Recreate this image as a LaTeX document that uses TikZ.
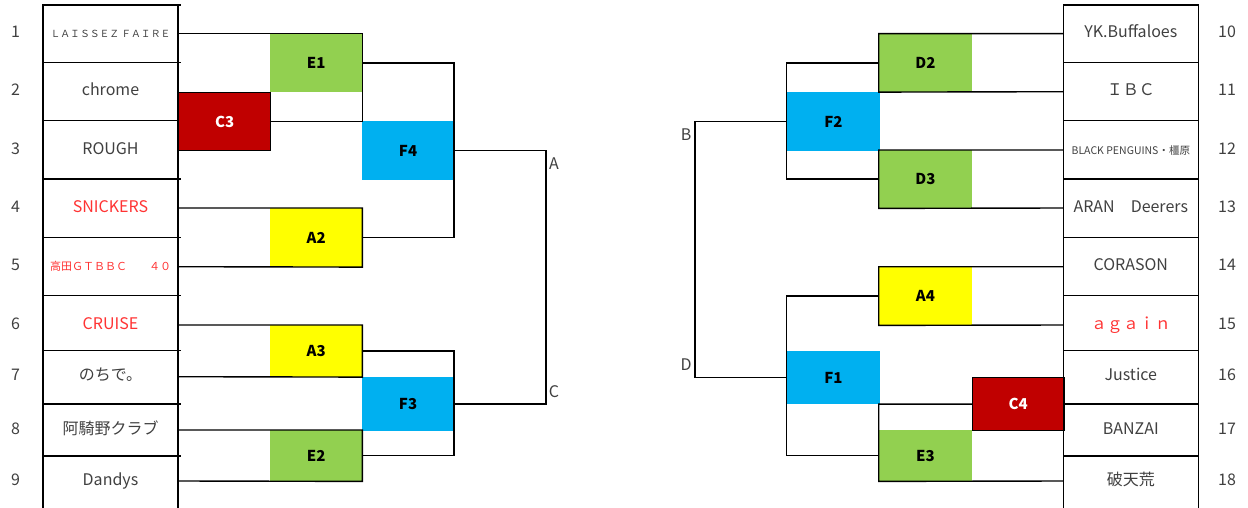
\documentclass[tikz,border=0pt]{standalone}
\usepackage{fontspec}
\setmainfont{Noto Sans CJK JP}
\usetikzlibrary{positioning}

\definecolor{egreen}{HTML}{92D050}
\definecolor{fblue}{HTML}{00B0F0}
\definecolor{ayellow}{HTML}{FFFF00}
\definecolor{cred}{HTML}{C00000}
\definecolor{txtgray}{HTML}{404040}
\definecolor{txtred}{HTML}{FF3333}

\tikzset{
  team/.style={inner sep=0pt, minimum width=135pt, text height=11pt, text depth=3pt,
    text=txtgray, font=\fontsize{16}{18}\selectfont},
  redteam/.style={team, text=txtred},
  seedno/.style={inner sep=0pt, text height=11pt, text depth=3pt, text=txtgray,
    font=\fontsize{16}{18}\selectfont},
  game/.style={inner sep=0pt, minimum width=92pt, anchor=north west,
    font=\fontsize{15}{17}\selectfont\bfseries},
  wire/.style={line width=1.4pt, line cap=rect},
}

\begin{document}
\begin{tikzpicture}[x=1pt, y=-1pt]
\useasboundingbox (0,0) rectangle (1248,508);

% entry tables
\foreach \y in {5,62.7,120.7,179,237.7,295.7,350.7,404,456} {
  \draw[wire] (43,\y) -- (180,\y);
  \draw[wire] (1063.3,\y) -- (1198.3,\y);
}
\draw[wire] (43,5) -- (43,510) (178,5) -- (178,510);
\draw[wire] (1063.3,5) -- (1063.3,510) (1198.3,5) -- (1198.3,510);

% seed numbers
\foreach \n/\y in {1/33.7,2/91.7,3/150,4/208,5/266.7,6/325,7/376.7,8/430,9/481}
  \node[seedno] (n\n) at (15.5,\y) {\n};
\foreach \n/\y in {10/33.7,11/91.7,12/150,13/208,14/266.7,15/325,16/376.7,17/430,18/481}
  \node[seedno] (n\n) at (1227,\y) {\n};

% teams, left
\node[team, font=\fontsize{9.8}{11}\selectfont] (t1) at (110.5,33.7) {ＬＡＩＳＳＥＺ ＦＡＩＲＥ};
\node[team] (t2) at (110.5,91.7) {chrome};
\node[team] (t3) at (110.5,150) {ROUGH};
\node[redteam] (t4) at (110.5,208) {SNICKERS};
\node[redteam, font=\fontsize{11}{13}\selectfont] (t5) at (110.5,266.7) {高田ＧＴＢＢＣ　　４０};
\node[redteam] (t6) at (110.5,325) {CRUISE};
\node[team] (t7) at (110.5,376.7) {のちで。};
\node[team] (t8) at (110.5,430) {阿騎野クラブ};
\node[team] (t9) at (110.5,481) {Dandys};

% teams, right
\node[team] (t10) at (1130.8,33.7) {YK.Buffaloes};
\node[team] (t11) at (1130.8,91.7) {ＩＢＣ};
\node[team, font=\fontsize{10.5}{12}\selectfont] (t12) at (1130.8,150) {BLACK PENGUINS・橿原};
\node[team] (t13) at (1130.8,208) {ARAN　Deerers};
\node[team] (t14) at (1130.8,266.7) {CORASON};
\node[redteam] (t15) at (1130.8,325) {ａｇａｉｎ};
\node[team] (t16) at (1130.8,376.7) {Justice};
\node[team] (t17) at (1130.8,430) {BANZAI};
\node[team] (t18) at (1130.8,481) {破天荒};

% games, left
\node[game, fill=egreen, minimum height=58pt] (E1) at (270,33.7) {E1};
\node[game, draw, line width=1.4pt, fill=cred, text=white, minimum height=58.3pt] (C3) at (178,91.7) {C3};
\node[game, fill=ayellow, minimum height=58.7pt] (A2) at (270,208) {A2};
\node[game, fill=ayellow, minimum height=51.7pt] (A3) at (270,325) {A3};
\node[game, fill=egreen, minimum height=51pt] (E2) at (270,430) {E2};
\node[game, fill=fblue, minimum width=91.7pt, minimum height=59pt] (F4) at (362,121) {F4};
\node[game, fill=fblue, minimum width=91.7pt, minimum height=53.7pt] (F3) at (362,377) {F3};

% games, right
\node[game, fill=egreen, minimum width=93pt, minimum height=58pt] (D2) at (878.7,33.7) {D2};
\node[game, fill=egreen, minimum width=93pt, minimum height=58pt] (D3) at (878.7,150) {D3};
\node[game, fill=ayellow, minimum width=93pt, minimum height=58.3pt] (A4) at (878.7,266.7) {A4};
\node[game, fill=egreen, minimum width=93pt, minimum height=51pt] (E3) at (878.7,430) {E3};
\node[game, draw, line width=1.4pt, fill=cred, text=white, minimum width=91.6pt, minimum height=53.3pt] (C4) at (971.7,376.7) {C4};
\node[game, fill=fblue, minimum width=93pt, minimum height=58.4pt] (F2) at (786.7,92.3) {F2};
\node[game, fill=fblue, minimum width=93pt, minimum height=52.7pt] (F1) at (786.7,351) {F1};

% bracket lines, left
\draw[wire] (t1.east) -- (E1.north east) -- (E1.north east |- C3.east) -- (C3.east);
\draw[wire] (t4.east) -- (A2.north east) -- (A2.south east) -- (t5.east);
\draw[wire] (t6.east) -- (A3.north east) -- (A3.south east) -- (t7.east);
\draw[wire] (t8.east) -- (E2.north east) -- (E2.south east) -- (t9.east);
\draw[wire] (E1.east) -| (F4.east) |- (A2.east);
\draw[wire] (A3.east) -| (F3.east) |- (E2.east);
\coordinate (finL) at (546,0);
\draw[wire] (F4.east) -| (finL |- F3.east) -- (F3.east);

% bracket lines, right
\draw[wire] (t10.west) -- (D2.north west) -- (D2.south west) -- (t11.west);
\draw[wire] (t12.west) -- (D3.north west) -- (D3.south west) -- (t13.west);
\draw[wire] (t14.west) -- (A4.north west) -- (A4.south west) -- (t15.west);
\draw[wire] (C4.west) -- (E3.west |- C4.west) -- (E3.south west) -- (t18.west);
\draw[wire] (D2.west) -| (F2.west) |- (D3.west);
\draw[wire] (A4.west) -| (F1.west) |- (E3.west);
\coordinate (finR) at (695,0);
\draw[wire] (F2.west) -| (finR |- F1.west) -- (F1.west);

% final letters
\node[seedno] (lblA) at (554,166) {A};
\node[seedno] (lblC) at (554,393) {C};
\node[seedno] (lblB) at (686,137) {B};
\node[seedno] (lblD) at (686,366) {D};
\end{tikzpicture}
\end{document}
